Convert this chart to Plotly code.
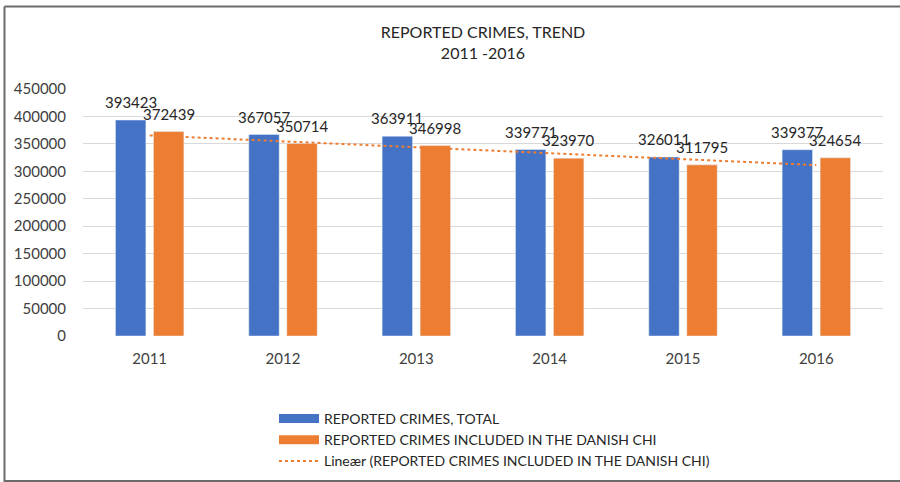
import numpy as np
import plotly.graph_objects as go

years = ["2011", "2012", "2013", "2014", "2015", "2016"]
total = [393423, 367057, 363911, 339771, 326011, 339377]
danish_chi = [372439, 350714, 346998, 323970, 311795, 324654]
y_ticks = [0, 50000, 100000, 150000, 200000, 250000, 300000, 350000, 400000, 450000]

name_total = "REPORTED CRIMES, TOTAL"
name_chi = "REPORTED CRIMES INCLUDED IN THE DANISH CHI"
name_trend = "Lineær (REPORTED CRIMES INCLUDED IN THE DANISH CHI)"

BLUE = "#4472C4"
ORANGE = "#ED7D31"
FONT = "Lato"
TXT = "#404040"
DARK = "#262626"

# linear (least squares) trendline of the CHI series, as in the source chart
xi = np.arange(len(danish_chi))
slope, intercept = np.polyfit(xi, danish_chi, 1)
trend = list(slope * xi + intercept)

W, H = 900, 482
L, R, T, B = 83, 17, 89, 146
pw, ph = W - L - R, H - T - B


def px(x):
    return (x - L) / pw


def py(y):
    return (H - B - y) / ph


fig = go.Figure()
fig.add_trace(go.Bar(x=years, y=total, name=name_total, marker=dict(color=BLUE),
                     showlegend=False))
fig.add_trace(go.Bar(x=years, y=danish_chi, name=name_chi, marker=dict(color=ORANGE),
                     showlegend=False))
fig.add_trace(go.Scatter(x=years, y=trend, name=name_trend, mode="lines",
                         line=dict(color=ORANGE, width=2, dash="dot"), showlegend=False))
# legend entries (wide swatches like the original)
fig.add_trace(go.Scatter(x=[years[0]], y=[None], name=name_total, mode="lines",
                         line=dict(color=BLUE, width=9)))
fig.add_trace(go.Scatter(x=[years[0]], y=[None], name=name_chi, mode="lines",
                         line=dict(color=ORANGE, width=9)))
fig.add_trace(go.Scatter(x=[years[0]], y=[None], name=name_trend, mode="lines",
                         line=dict(color=ORANGE, width=2, dash="dot")))

annotations = []
for series, shift in ((total, -19), (danish_chi, 19)):
    for i, v in enumerate(series):
        annotations.append(dict(x=i, y=v, xref="x", yref="y", text=str(v),
                                showarrow=False, xanchor="center", yanchor="bottom",
                                xshift=shift, yshift=7,
                                font=dict(family=FONT, size=15, color=DARK)))

fig.update_layout(
    width=W, height=H,
    margin=dict(l=L, r=R, t=T, b=B, autoexpand=False),
    paper_bgcolor="white", plot_bgcolor="white",
    font=dict(family=FONT, size=14, color=TXT),
    barmode="group", bargap=0.43, bargroupgap=0.2,
    title=dict(text="REPORTED CRIMES, TREND<br>2011 -2016", x=0.5, xref="paper",
               xanchor="center", y=1 - 38 / H, yanchor="top",
               font=dict(family=FONT, size=16, color=DARK)),
    showlegend=True,
    legend=dict(x=px(274), y=py(403), xanchor="left", yanchor="top",
                font=dict(family=FONT, size=14, color=DARK),
                bgcolor="rgba(0,0,0,0)", tracegroupgap=0, itemwidth=40),
    annotations=annotations,
    shapes=[
        dict(type="line", xref="paper", yref="paper", x0=px(4.5), x1=px(900),
             y0=py(6.5), y1=py(6.5), line=dict(color="#6b6b6b", width=2)),
        dict(type="line", xref="paper", yref="paper", x0=px(4.5), x1=px(4.5),
             y0=py(6.5), y1=py(482), line=dict(color="#6b6b6b", width=2)),
        dict(type="line", xref="paper", yref="paper", x0=px(4.5), x1=px(900),
             y0=py(481), y1=py(481), line=dict(color="#6b6b6b", width=2)),
    ],
)
fig.update_xaxes(type="category", categoryorder="array", categoryarray=years,
                 range=[-0.5, len(years) - 0.5],
                 showgrid=False, showline=False, ticks="", tickfont=dict(size=15, color=TXT),
                 ticklabelstandoff=12)
fig.update_yaxes(range=[0, 450000], tickvals=y_ticks, ticktext=[str(v) for v in y_ticks],
                 showgrid=True, gridcolor="#d9d9d9", gridwidth=1, zeroline=False,
                 showline=False, ticks="", tickfont=dict(size=15, color=TXT),
                 ticklabelstandoff=16)

fig.write_html("out.html", config={"displayModeBar": False},
               post_script="document.body.style.margin='0';")
